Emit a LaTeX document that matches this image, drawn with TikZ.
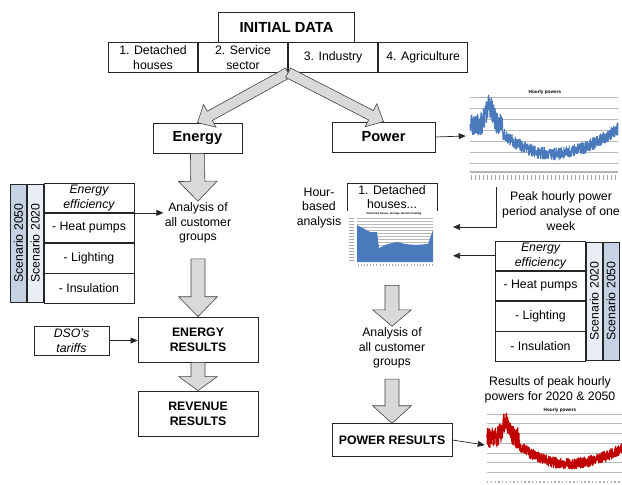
\documentclass[tikz,border=0pt]{standalone}
\usepackage{fontspec}
\setmainfont{Liberation Sans}
\setsansfont{Liberation Sans}
\usetikzlibrary{calc,arrows.meta}

\definecolor{scfifty}{RGB}{197,210,227}
\definecolor{sctwenty}{RGB}{233,238,245}
\definecolor{hourblue}{RGB}{74,122,188}
\definecolor{hourred}{RGB}{192,0,0}
\definecolor{fatgray}{RGB}{217,217,217}

\tikzset{box/.style={draw=black!85,line width=0.6pt,fill=white,align=center,inner sep=1pt,
  font=\fontsize{10.5}{12.5}\selectfont}}
\tikzset{group box/.style={box,minimum width=2.68cm,minimum height=0.9cm}}
\tikzset{head box/.style={box,font=\fontsize{12.5}{15}\selectfont\bfseries}}
\tikzset{result box/.style={box,minimum width=3.6cm,font=\fontsize{10.5}{13}\selectfont\bfseries}}
\tikzset{row box/.style={box,minimum width=2.7cm,minimum height=0.885cm}}
\tikzset{scen box/.style={box,rotate=90,minimum width=3.54cm,minimum height=0.48cm,inner sep=0pt}}
\tikzset{note/.style={align=center,inner sep=1pt,font=\fontsize{10.5}{12.5}\selectfont}}
\tikzset{thin arrow/.style={draw=black!85,line width=0.6pt,-{Triangle[length=6pt,width=5pt]}}}
\tikzset{fat arrow/.style={draw=black!75,line width=0.5pt,fill=fatgray,line join=miter}}
\tikzset{grid line/.style={gray!55,line width=0.7pt}}
\tikzset{tick mark/.style={gray!70,line width=0.3pt}}

% tail, tip, half shaft, half head, head length
\newcommand\fatarrow[5]{%
  \coordinate (fab) at ($(#2)!#5!(#1)$);
  \draw[fat arrow] ($(#1)!#3!90:(#2)$) -- ($(fab)!#3!90:(#2)$) -- ($(fab)!#4!90:(#2)$)
    -- (#2) -- ($(fab)!#4!-90:(#2)$) -- ($(fab)!#3!-90:(#2)$) -- ($(#1)!#3!-90:(#2)$) -- cycle;}

\begin{document}
\begin{tikzpicture}[x=0.03cm,y=-0.03cm,
  declare function={hourly(\u)=(\u<0.22) ? 0.62+0.3*exp(-(((\u-0.13)/0.035)^2))
    : ((\u<0.55) ? 0.15+3*(\u-0.55)^2 : 0.15+2*(\u-0.55)^2);}]
\useasboundingbox (0,0) rectangle (622,485);
\pgfmathsetseed{11}

% initial data
\node[head box,minimum width=4.08cm,minimum height=0.9cm] (init) at (286.5,27) {INITIAL DATA};
\node[group box,anchor=north west] (det) at (108,42) {1. Detached\\houses};
\node[group box,anchor=west] (serv) at (det.east) {2. Service\\sector};
\node[group box,anchor=west] (ind) at (serv.east) {3. Industry};
\node[group box,anchor=west] (agr) at (ind.east) {4. Agriculture};
\coordinate (split) at (serv.south east);

\node[head box,minimum width=2.67cm,minimum height=0.9cm] (energy) at (197.5,138) {Energy};
\node[head box,minimum width=3.09cm,minimum height=0.9cm] (power) at (383.5,137) {Power};
\fatarrow{split}{energy.north}{4.5pt}{11pt}{12pt}
\fatarrow{split}{power.north}{4.5pt}{11pt}{12pt}

% energy side
\node[note] (anL) at (198,223) {Analysis of\\all customer\\groups};
\fatarrow{energy.south}{anL.north}{6pt}{16.5pt}{17pt}

\node[row box] (effL) at (89,197.75) {\itshape Energy\\\itshape efficiency};
\node[row box,anchor=north] (hpL) at (effL.south) {- Heat pumps};
\node[row box,anchor=north] (liL) at (hpL.south) {- Lighting};
\node[row box,anchor=north] (inL) at (liL.south) {- Insulation};
\node[scen box,fill=sctwenty,anchor=south] (stwL) at ($(effL.north west)!0.5!(inL.south west)$) {Scenario 2020};
\node[scen box,fill=scfifty,anchor=south] (sfiL) at (stwL.north) {Scenario 2050};
\draw[thin arrow] (effL.south east) -- (effL.south east -| anL.west);

\node[result box,minimum height=1.35cm] (eres) at (198,339.5) {ENERGY\\RESULTS};
\node[result box,minimum height=1.35cm] (rres) at (198,413.5) {REVENUE\\RESULTS};
\node[box,minimum width=2.25cm,minimum height=0.87cm] (dso) at (71.5,340.5) {\itshape DSO's\\\itshape tariffs};
\draw[thin arrow] (dso.east) -- (dso.east -| eres.west);
\coordinate (aLtop) at ([yshift=-12pt]anL.south);
\fatarrow{aLtop}{eres.north}{6pt}{16.5pt}{17pt}
\fatarrow{eres.south}{rres.north}{6pt}{16.5pt}{12pt}

% power side
\node[minimum width=4.68cm,minimum height=3cm,inner sep=0pt] (hpone) at (544,136) {};
\draw[thin arrow] (power.east) -- (hpone.west);
\node[font=\fontsize{4}{5}\selectfont\bfseries] (hpttl) at (545,92) {Hourly powers};
\foreach \g in {97,108,119,130,141,152,163}
  \draw[grid line] (470,\g) -- (618,\g);
\draw[hourblue,line width=0.9pt,line join=round] plot[domain=0:1,samples=800,variable=\u]
  ({470+148*\u},{163-62*(hourly(\u)+((\u<0.22) ? 0.19 : 0.1)*rand)});
\draw[gray!60,line width=1.6pt] (470,172) -- (618,172);
\foreach \i in {0,...,36}
  \draw[tick mark] ({471+4*\i},175) -- ++(0,5);

\node[note] (peak) at (561,211) {Peak hourly power\\period analyse of one\\week};
\coordinate (pk) at (496,187);
\coordinate (inone) at (453,227);
\draw[thin arrow] (pk) |- (inone);

\node[note] (hba) at (319,208) {Hour-\\based\\analysis};
\node[box,draw=none,minimum width=2.7cm,minimum height=1.71cm,inner sep=0pt] (dhc) at (392,239.5) {};
\draw[black!85,line width=0.6pt] (347,211) -- (347,183) -- (437,183) -- (437,211);
\node[note,minimum width=2.7cm,minimum height=0.84cm] (dh) at (392,197) {1. Detached\\houses...};
\node[font=\fontsize{2.4}{3}\selectfont\bfseries,inner sep=0pt] (dhttl) at (394,214) {Detached house, storage electric heating};
\foreach \g in {218,221,...,262}
  \draw[gray!55,line width=0.35pt] (357,\g) -- (433,\g);
\foreach \g in {218,221,...,262}
  \draw[tick mark] (349,\g) -- (354,\g);
\fill[hourblue] (357,262) -- (357,225) -- (370,232) -- (377,232) -- (379,248) -- (383,246)
  -- (388,244) -- (397,242) -- (405,244) -- (415,245) -- (428,244) -- (433,230) -- (433,262) -- cycle;
\foreach \i in {0,...,24}
  \draw[tick mark] ({358+3.1*\i},264) -- ++(0,2);

\node[row box] (effR) at (540.5,255.75) {\itshape Energy\\\itshape efficiency};
\node[row box,anchor=north] (hpR) at (effR.south) {- Heat pumps};
\node[row box,anchor=north] (liR) at (hpR.south) {- Lighting};
\node[row box,anchor=north] (inR) at (liR.south) {- Insulation};
\node[scen box,fill=sctwenty,anchor=north] (stwR) at ($(effR.north east)!0.5!(inR.south east)$) {Scenario 2020};
\node[scen box,fill=scfifty,anchor=north] (sfiR) at (stwR.south) {Scenario 2050};
\draw[thin arrow] (effR.west) -- (effR.west -| inone);

\node[note] (anR) at (392,348) {Analysis of\\all customer\\groups};
\coordinate (aRtop) at ([yshift=-14.5pt]dhc.south);
\fatarrow{aRtop}{anR.north}{6pt}{16.5pt}{14pt}
\node[result box,minimum height=0.98cm] (pres) at (392,440) {POWER RESULTS};
\coordinate (aRbot) at ([yshift=-8pt]anR.south);
\fatarrow{aRbot}{pres.north}{6pt}{16.5pt}{15pt}

\node[note] (resn) at (550,390) {Results of peak hourly\\powers for 2020 \& 2050};
\node[minimum width=4.11cm,minimum height=2.4cm,inner sep=0pt] (hptwo) at (553.5,445) {};
\draw[thin arrow] (pres.east) -- (hptwo.west);
\node[font=\fontsize{4}{5}\selectfont\bfseries] (hpttltwo) at (560,410) {Hourly powers};
\begin{scope}
\clip (485,405) rectangle (622,485);
\foreach \g in {414,423,433,443,453,462,472}
  \draw[grid line] (487,\g) -- (622,\g);
\draw[hourred,line width=1pt,line join=round] plot[domain=0:0.93,samples=740,variable=\u]
  ({487+146*\u},{472-55*(hourly(\u)+((\u<0.22) ? 0.19 : 0.1)*rand)});
\draw[gray!60,line width=1.2pt,dotted] (487,482) -- (622,482);
\end{scope}
\end{tikzpicture}
\end{document}
